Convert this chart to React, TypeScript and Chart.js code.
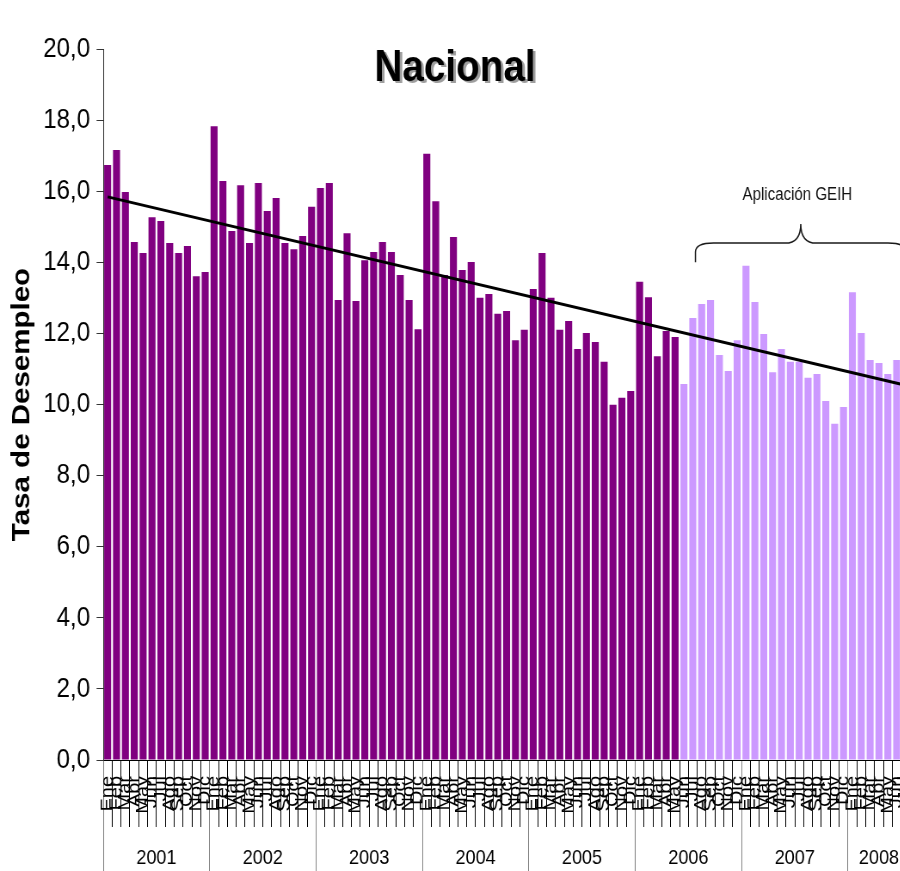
import React, { useEffect, useRef } from 'react';
import { Chart, registerables } from 'chart.js';

Chart.register(...registerables);

// ---------- data ----------
const monthNames = ['Ene', 'Feb', 'Mar', 'Abr', 'May', 'Jun', 'Jul', 'Ago', 'Sep', 'Oct', 'Nov', 'Dic'];
const years = ['2001', '2002', '2003', '2004', '2005', '2006', '2007', '2008'];
const monthsPerYear = [12, 12, 12, 12, 12, 12, 12, 7];

const tasa2001 = [16.74, 17.16, 15.98, 14.57, 14.26, 15.27, 15.16, 14.54, 14.26, 14.46, 13.61, 13.73];
const tasa2002 = [17.83, 16.29, 14.88, 16.17, 14.54, 16.23, 15.44, 15.81, 14.54, 14.37, 14.74, 15.56];
const tasa2003 = [16.09, 16.23, 12.94, 14.82, 12.91, 14.06, 14.29, 14.57, 14.29, 13.64, 12.94, 12.12];
const tasa2004 = [17.05, 15.72, 13.64, 14.71, 13.78, 14.01, 13.0, 13.11, 12.55, 12.63, 11.81, 12.1];
const tasa2005 = [13.25, 14.26, 13.0, 12.1, 12.35, 11.56, 12.01, 11.76, 11.2, 9.99, 10.19, 10.38];
const tasa2006 = [13.45, 13.02, 11.36, 12.07, 11.9, 10.58, 12.43, 12.83, 12.94, 11.39, 10.94, 11.81];
const tasa2007 = [13.9, 12.88, 11.98, 10.91, 11.56, 11.2, 11.2, 10.75, 10.86, 10.1, 9.46, 9.93];
const tasa2008 = [13.16, 12.01, 11.25, 11.17, 10.86, 11.25, null];

const geihStartIndex = 65; // Jun 2006: first month measured with GEIH
const trendStart = 15.84;
const trendEnd = 10.54;

const yMin = 0;
const yMax = 20;
const yStep = 2;

const annotationText = 'Aplicación GEIH';

// ---------- derived ----------
const labels: string[] = years.flatMap((_, i) => monthNames.slice(0, monthsPerYear[i]));
const values = [...tasa2001, ...tasa2002, ...tasa2003, ...tasa2004, ...tasa2005, ...tasa2006, ...tasa2007, ...tasa2008];
const trendData: (number | null)[] = labels.map((_, i) => (i === 0 ? trendStart : i === labels.length - 1 ? trendEnd : null));
const barColors = values.map((_, i) => (i < geihStartIndex ? '#800080' : '#CC99FF'));

// year boundaries and centres for the second axis
const yearStarts: number[] = [];
{
  let acc = 0;
  monthsPerYear.forEach((m) => {
    yearStarts.push(acc);
    acc += m;
  });
}
const yearBoundaryValues = yearStarts.map((s) => s - 0.5);
const yearCenterValues = yearStarts.map((s, i) => s - 0.5 + monthsPerYear[i] / 2);

// ---------- geometry of the picture ----------
const SX = 0.86; // horizontal compression of the original picture
const CSS_W = 910;
const LOGICAL_W = Math.round(CSS_W / SX);
const H = 871;
const FONT = '"Liberation Sans", Arial, Helvetica, sans-serif';

const TITLE_SIZE = 45;
const TITLE_PAD_TOP = 46;

const titleShadowPlugin = {
  id: 'titleShadow',
  beforeDraw(chart: any) {
    const tb = chart.titleBlock;
    if (!tb) return;
    const ctx = chart.ctx;
    const cx = (tb.left + tb.right) / 2;
    const cy = tb.top + TITLE_PAD_TOP + TITLE_SIZE / 2;
    ctx.save();
    ctx.font = `bold ${TITLE_SIZE}px ${FONT}`;
    ctx.fillStyle = 'rgba(0,0,0,0.38)';
    ctx.textAlign = 'center';
    ctx.textBaseline = 'middle';
    ctx.fillText('Nacional', cx + 3, cy + 2.5);
    ctx.restore();
  },
};

const bracePlugin = {
  id: 'geihBrace',
  afterDatasetsDraw(chart: any) {
    const { ctx, scales } = chart;
    const xs = scales.x;
    const ys = scales.y;
    const xL = xs.getPixelForValue(66.3);
    const xR = xs.getPixelForValue(90.05);
    const xM = (xL + xR) / 2;
    const yEnd = ys.getPixelForValue(14.0);
    const yH = ys.getPixelForValue(14.54);
    const yPeak = ys.getPixelForValue(15.08);
    const yText = ys.getPixelForValue(15.89);
    ctx.save();
    ctx.strokeStyle = '#1a1a1a';
    ctx.lineWidth = 1.5;
    ctx.beginPath();
    ctx.moveTo(xL, yEnd);
    ctx.lineTo(xL, yH + 9);
    ctx.quadraticCurveTo(xL, yH, xL + 21, yH);
    ctx.lineTo(xM - 18, yH);
    ctx.quadraticCurveTo(xM, yH, xM, yPeak);
    ctx.quadraticCurveTo(xM, yH, xM + 18, yH);
    ctx.lineTo(xR - 21, yH);
    ctx.quadraticCurveTo(xR, yH, xR, yH + 9);
    ctx.lineTo(xR, yEnd);
    ctx.stroke();
    ctx.font = `17.5px ${FONT}`;
    ctx.fillStyle = '#111';
    ctx.textAlign = 'center';
    ctx.textBaseline = 'middle';
    ctx.fillText(annotationText, xM - 4, yText);
    ctx.restore();
  },
};

export default function App() {
  const ref = useRef<HTMLCanvasElement>(null);

  useEffect(() => {
    if (!ref.current) return;
    const chart = new Chart(ref.current, {
      type: 'bar',
      data: {
        labels,
        datasets: [
          {
            type: 'line',
            label: 'Tendencia',
            data: trendData,
            borderColor: '#000',
            borderWidth: 3,
            pointRadius: 0,
            spanGaps: true,
            fill: false,
            order: 0,
            xAxisID: 'x',
            yAxisID: 'y',
          } as any,
          {
            type: 'bar',
            label: 'Tasa de Desempleo',
            data: values,
            backgroundColor: barColors,
            borderWidth: 0,
            categoryPercentage: 1,
            barPercentage: 0.79,
            order: 1,
            xAxisID: 'x',
            yAxisID: 'y',
          } as any,
        ],
      },
      options: {
        responsive: false,
        maintainAspectRatio: false,
        animation: false,
        devicePixelRatio: 1,
        layout: { padding: 0 },
        plugins: {
          legend: { display: false },
          tooltip: { enabled: false },
          title: {
            display: true,
            text: 'Nacional',
            color: '#000',
            font: { family: FONT, size: TITLE_SIZE, weight: 'bold', lineHeight: 1 },
            padding: { top: TITLE_PAD_TOP, bottom: -42 },
          },
        },
        scales: {
          x: {
            type: 'category',
            position: 'bottom',
            weight: 0,
            offset: true,
            grid: {
              display: true,
              drawOnChartArea: false,
              drawTicks: true,
              offset: true,
              tickLength: 67,
              lineWidth: 1,
              color: (c: any) => (yearBoundaryValues.includes(c.index - 0.5) ? '#808080' : '#000'),
            },
            border: { display: true, color: '#000', width: 1 },
            ticks: {
              autoSkip: false,
              maxRotation: 90,
              minRotation: 90,
              padding: -51,
              color: '#000',
              font: { family: FONT, size: 20 },
            },
            afterFit: (s: any) => {
              s.height = 67;
              s.paddingLeft = 0;
              s.paddingRight = 0;
            },
          },
          x2: {
            type: 'linear',
            position: 'bottom',
            weight: 1,
            offset: false,
            min: -0.5,
            max: labels.length - 0.5,
            afterBuildTicks: (s: any) => {
              s.ticks = [...yearBoundaryValues, ...yearCenterValues]
                .sort((a, b) => a - b)
                .map((v) => ({ value: v }));
            },
            grid: {
              display: true,
              drawOnChartArea: false,
              drawTicks: true,
              offset: false,
              tickLength: 44,
              lineWidth: 1,
              color: (c: any) =>
                c.tick && yearBoundaryValues.includes(c.tick.value) ? '#808080' : 'rgba(0,0,0,0)',
            },
            border: { display: false },
            ticks: {
              autoSkip: false,
              maxRotation: 0,
              minRotation: 0,
              padding: -25,
              color: '#000',
              font: { family: FONT, size: 21 },
              callback: (v: any) => {
                const i = yearCenterValues.indexOf(Number(v));
                return i >= 0 ? years[i] : '';
              },
            },
            afterFit: (s: any) => {
              s.height = 44;
              s.paddingLeft = 0;
              s.paddingRight = 0;
            },
          },
          y: {
            type: 'linear',
            position: 'left',
            min: yMin,
            max: yMax,
            grid: {
              display: true,
              drawOnChartArea: false,
              drawTicks: true,
              tickLength: 7.7,
              color: '#333',
            },
            border: { display: true, color: '#333', width: 1 },
            ticks: {
              stepSize: yStep,
              padding: 7.6,
              color: '#000',
              font: { family: FONT, size: 28 },
              callback: (v: any) => Number(v).toFixed(1).replace('.', ','),
            },
            title: {
              display: true,
              text: 'Tasa de Desempleo',
              color: '#000',
              font: { family: FONT, size: 29.5, weight: 'bold', lineHeight: 1 },
              padding: { top: 11, bottom: 9 },
            },
            afterFit: (s: any) => {
              s.width = 120;
            },
          },
        },
      } as any,
      plugins: [titleShadowPlugin, bracePlugin],
    });
    return () => chart.destroy();
  }, []);

  return (
    <div
      style={{
        position: 'fixed',
        left: 0,
        top: 0,
        width: 900,
        height: H,
        overflow: 'hidden',
        background: '#fff',
      }}
    >
      <canvas ref={ref} width={LOGICAL_W} height={H} style={{ width: `${CSS_W}px`, height: `${H}px` }} />
    </div>
  );
}
